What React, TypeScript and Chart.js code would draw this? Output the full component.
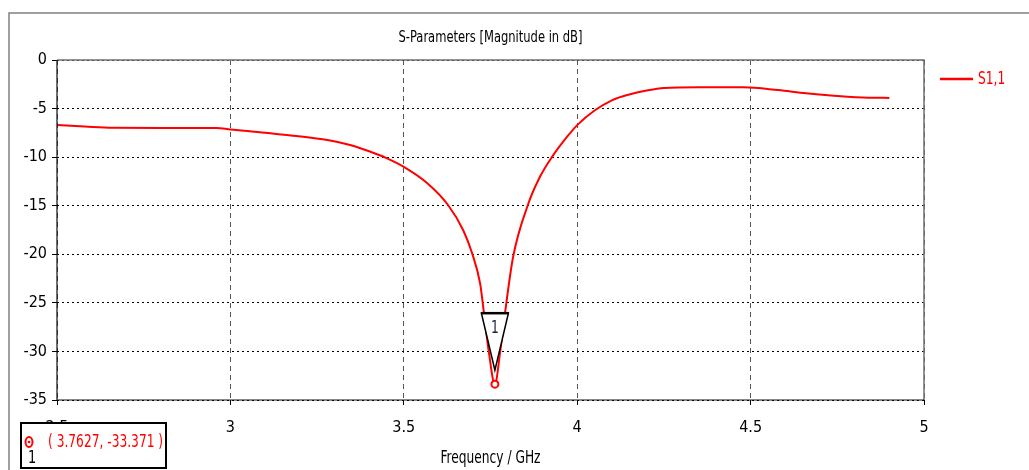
import React, { useEffect, useRef } from 'react';
import { Chart, registerables } from 'chart.js';

Chart.register(...registerables);

// ---- data ----
const FREQ_GHZ = [2.5, 2.58, 2.66, 2.8, 2.96, 3.0, 3.05, 3.1, 3.19, 3.28, 3.345, 3.4, 3.45, 3.5, 3.567, 3.627, 3.671, 3.697, 3.72, 3.731, 3.745, 3.7627, 3.778, 3.792, 3.815, 3.858, 3.893, 3.927, 3.971, 4.0, 4.05, 4.1, 4.15, 4.2, 4.25, 4.35, 4.48, 4.58, 4.66, 4.74, 4.84, 4.9];
const S11_DB = [-6.7, -6.85, -6.98, -7.0, -7.0, -7.15, -7.3, -7.5, -7.82, -8.24, -8.75, -9.4, -10.1, -11.0, -12.66, -14.9, -17.5, -19.9, -23.0, -26.0, -30.0, -33.371, -30.0, -26.0, -20.3, -14.9, -12.0, -10.0, -7.9, -6.7, -5.2, -4.15, -3.55, -3.15, -2.88, -2.8, -2.8, -3.1, -3.43, -3.67, -3.88, -3.9];
const X_TICKS = [2.5, 3, 3.5, 4, 4.5, 5];
const Y_TICKS = [0, -5, -10, -15, -20, -25, -30, -35];
const MARKER_FREQ = 3.7627;
const MARKER_DB = -33.371;
const MARKER_ID = '1';
const TITLE = 'S-Parameters [Magnitude in dB]';
const X_TITLE = 'Frequency / GHz';
const SERIES_NAME = 'S1,1';

const FONT = '"DejaVu Sans Condensed", "Liberation Sans Narrow", "Noto Sans", sans-serif';
const RED = '#ff0000';
const SX = 0.8; // horizontal squeeze of the narrow UI font

function narrowText(ctx: any, text: string, x: number, y: number, size: number, color: string, align: string) {
  ctx.save();
  ctx.font = `${size}px ${FONT}`;
  ctx.fillStyle = color;
  ctx.textAlign = align;
  ctx.textBaseline = 'middle';
  ctx.translate(x, y);
  ctx.scale(SX, 1);
  ctx.fillText(text, 0, 0);
  ctx.restore();
}

const overlay = {
  id: 'overlay',
  afterDraw(chart: any) {
    const { ctx, chartArea: a, scales } = chart;
    const xs = scales.x;
    const ys = scales.y;
    ctx.save();

    // outer frame
    ctx.setLineDash([]);
    ctx.strokeStyle = '#808080';
    ctx.lineWidth = 1.5;
    ctx.beginPath();
    ctx.moveTo(9, chart.height);
    ctx.lineTo(9, 13);
    ctx.lineTo(chart.width, 13);
    ctx.stroke();

    // plot frame
    ctx.strokeStyle = '#707070';
    ctx.lineWidth = 1.5;
    ctx.beginPath();
    ctx.moveTo(a.left, a.top);
    ctx.lineTo(a.right, a.top);
    ctx.lineTo(a.right, a.bottom);
    ctx.stroke();
    ctx.strokeStyle = '#111';
    ctx.lineWidth = 1.2;
    ctx.beginPath();
    ctx.moveTo(a.left, a.top);
    ctx.lineTo(a.left, a.bottom);
    ctx.lineTo(a.right, a.bottom);
    ctx.stroke();

    // title + x axis title
    narrowText(ctx, TITLE, (a.left + a.right) / 2, 38, 16, '#000', 'center');
    narrowText(ctx, X_TITLE, (a.left + a.right) / 2, 459, 17, '#000', 'center');

    // legend
    ctx.strokeStyle = RED;
    ctx.lineWidth = 2.5;
    ctx.beginPath();
    ctx.moveTo(a.right + 16, 79);
    ctx.lineTo(a.right + 49, 79);
    ctx.stroke();
    narrowText(ctx, SERIES_NAME, a.right + 54, 80, 17, RED, 'left');

    // marker on curve
    const mx = xs.getPixelForValue(MARKER_FREQ);
    const my = ys.getPixelForValue(MARKER_DB);
    ctx.fillStyle = '#fff';
    ctx.strokeStyle = '#000';
    ctx.lineWidth = 1.5;
    ctx.beginPath();
    ctx.moveTo(mx - 13.5, my - 71);
    ctx.lineTo(mx + 13.5, my - 71);
    ctx.lineTo(mx, my - 14);
    ctx.closePath();
    ctx.fill();
    ctx.stroke();
    ctx.lineWidth = 2.5;
    ctx.beginPath();
    ctx.moveTo(mx - 14, my - 71);
    ctx.lineTo(mx + 14, my - 71);
    ctx.stroke();
    narrowText(ctx, MARKER_ID, mx, my - 56, 17, '#1a1a3a', 'center');
    ctx.strokeStyle = RED;
    ctx.lineWidth = 2;
    ctx.fillStyle = '#fff';
    ctx.beginPath();
    ctx.arc(mx, my, 3.5, 0, Math.PI * 2);
    ctx.fill();
    ctx.stroke();

    // annotation box
    ctx.fillStyle = '#fff';
    ctx.fillRect(20, 422, 147, 48);
    ctx.strokeStyle = '#000';
    ctx.lineWidth = 2;
    ctx.strokeRect(21, 423, 145, 45);
    ctx.strokeStyle = RED;
    ctx.lineWidth = 2;
    ctx.beginPath();
    ctx.ellipse(29, 442, 3.5, 5, 0, 0, Math.PI * 2);
    ctx.stroke();
    ctx.fillStyle = RED;
    ctx.beginPath();
    ctx.arc(29, 442, 1.3, 0, Math.PI * 2);
    ctx.fill();
    narrowText(ctx, MARKER_ID, 32, 458, 18, '#000', 'center');
    narrowText(ctx, `( ${MARKER_FREQ}, ${MARKER_DB} )`, 48, 443, 17, RED, 'left');

    ctx.restore();
  },
};

export default function App() {
  const ref = useRef<HTMLCanvasElement>(null);
  useEffect(() => {
    const canvas = ref.current;
    if (!canvas) return;
    const chart = new Chart(canvas, {
      type: 'line',
      data: {
        datasets: [
          {
            label: SERIES_NAME,
            data: FREQ_GHZ.map((f, i) => ({ x: f, y: S11_DB[i] })),
            borderColor: RED,
            borderWidth: 2,
            pointRadius: 0,
            cubicInterpolationMode: 'monotone',
          },
        ],
      },
      options: {
        responsive: false,
        animation: false,
        devicePixelRatio: 1,
        layout: { padding: { left: 0, top: 60, right: 105, bottom: 0 } },
        plugins: { legend: { display: false }, title: { display: false }, tooltip: { enabled: false } },
        scales: {
          x: {
            type: 'linear',
            min: 2.5,
            max: 5,
            afterBuildTicks: (s: any) => {
              s.ticks = X_TICKS.map((v) => ({ value: v }));
            },
            afterFit: (s: any) => {
              s.height = 70;
            },
            ticks: {
              color: '#000',
              font: { family: FONT, size: 16 },
              padding: 13,
              maxRotation: 0,
              callback: (v: any) => String(v),
            },
            grid: {
              color: '#555',
              lineWidth: 1,
              tickLength: 5,
              tickColor: '#000',
              tickBorderDash: [],
            },
            border: { display: false, dash: [5, 4] },
          },
          y: {
            type: 'linear',
            min: -35,
            max: 0,
            afterBuildTicks: (s: any) => {
              s.ticks = Y_TICKS.map((v) => ({ value: v }));
            },
            afterFit: (s: any) => {
              s.width = 57;
            },
            ticks: {
              color: '#000',
              font: { family: FONT, size: 16 },
              padding: 5,
              callback: (v: any) => String(v),
            },
            grid: {
              color: '#000',
              lineWidth: 1,
              tickLength: 5,
              tickColor: '#000',
              tickBorderDash: [],
            },
            border: { display: false, dash: [2, 3] },
          },
        },
      },
      plugins: [overlay],
    } as any);
    return () => chart.destroy();
  }, []);
  return (
    <div style={{ position: 'absolute', left: 0, top: 0, width: 1029, height: 470, background: '#fff' }}>
      <canvas ref={ref} width={1029} height={470} style={{ display: 'block' }} />
    </div>
  );
}
